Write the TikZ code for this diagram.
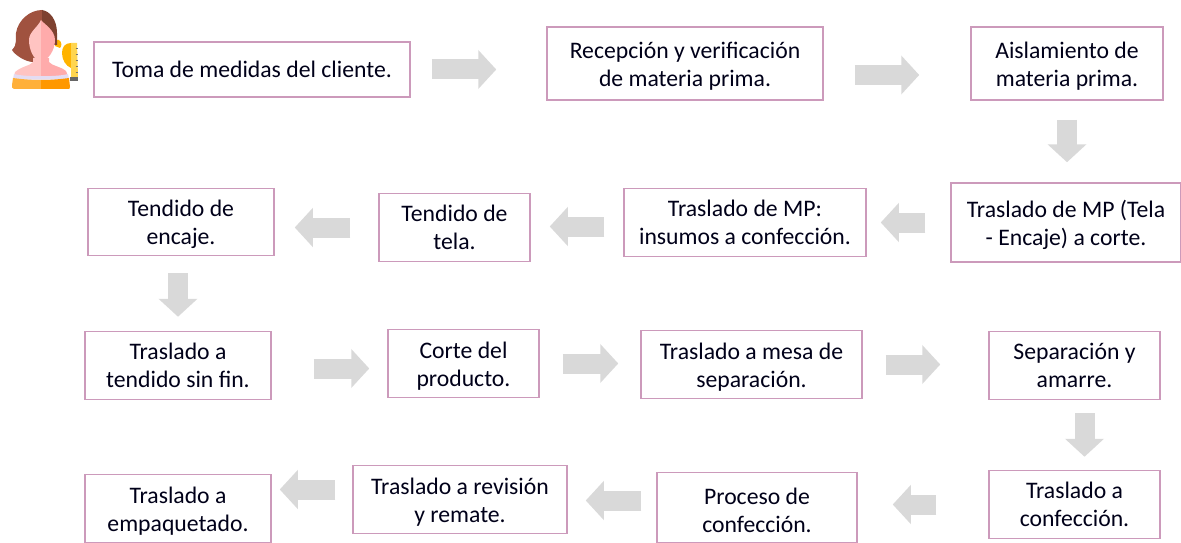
\documentclass[tikz,border=0pt]{standalone}
\usepackage{fontspec}
\setmainfont{Carlito}
\usetikzlibrary{arrows.meta,positioning}

\definecolor{boxpink}{HTML}{CC9ABB}
\definecolor{arrowgray}{HTML}{D9D9D9}
\definecolor{hairlight}{HTML}{A0523F}
\definecolor{hairdark}{HTML}{7E4130}
\definecolor{skinlight}{HTML}{FFC4C2}
\definecolor{skindark}{HTML}{FFABAB}
\definecolor{shirtlight}{HTML}{FFB03A}
\definecolor{shirtdark}{HTML}{FF9800}
\definecolor{bandlila}{HTML}{E4DCF2}
\definecolor{tapeyellow}{HTML}{FFD54F}
\definecolor{tapeorange}{HTML}{FFB300}

\tikzset{
 proc/.style={draw=boxpink,line width=1.5pt,fill=white,align=center,inner sep=0pt,
  text=black!90!blue,font=\fontsize{23.7}{28.3}\selectfont},
 procbajo/.style={proc,execute at begin node={\rule{0pt}{50pt}}},
 flecha/.style={draw=arrowgray,line width=20pt,-{Triangle[width=38pt,length=18pt,fill=arrowgray]}},
}

\begin{document}
\begin{tikzpicture}[x=1pt,y=-1pt,on grid]
 \useasboundingbox (0,0) rectangle (1181,543);
 % fila 1
 \node[proc,minimum width=316pt,minimum height=55pt] (toma) at (252,69.5) {Toma de medidas del cliente.};
 \node[procbajo,minimum width=276pt,minimum height=73pt] (recep) [above right=6pt and 433pt of toma] {Recepción y verificación\\de materia prima.};
 \node[procbajo,minimum width=192pt,minimum height=73pt] (aisl) [right=382pt of recep] {Aislamiento de\\materia prima.};
 % fila 2
 \node[procbajo,minimum width=230pt,minimum height=79pt] (trascorte) [below left=159pt and 1pt of aisl] {Traslado de MP (Tela\\- Encaje) a corte.};
 \node[proc,minimum width=242pt,minimum height=68pt] (insumos) [left=321pt of trascorte] {Traslado de MP:\\insumos a confección.};
 \node[proc,minimum width=151pt,minimum height=68pt] (tela) [below left=5pt and 290.5pt of insumos] {Tendido de\\tela.};
 \node[procbajo,minimum width=186pt,minimum height=67pt] (encaje) [above left=5.5pt and 273.5pt of tela] {Tendido de\\encaje.};
 % fila 3
 \node[proc,minimum width=186pt,minimum height=68pt] (sinfin) [below left=143.5pt and 3pt of encaje] {Traslado a\\tendido sin fin.};
 \node[procbajo,minimum width=151pt,minimum height=68pt] (corte) [above right=2pt and 285.5pt of sinfin] {Corte del\\producto.};
 \node[procbajo,minimum width=221pt,minimum height=68pt] (mesa) [below right=1pt and 288pt of corte] {Traslado a mesa de\\separación.};
 \node[proc,minimum width=171pt,minimum height=68pt] (separ) [below right=1pt and 323pt of mesa] {Separación y\\amarre.};
 % fila 4
 \node[proc,minimum width=171pt,minimum height=68pt] (trasconf) [below=139pt of separ] {Traslado a\\confección.};
 \node[procbajo,minimum width=200pt,minimum height=70pt] (conf) [below left=3pt and 317.5pt of trasconf] {Proceso de\\confección.};
 \node[procbajo,minimum width=214pt,minimum height=68pt] (rev) [above left=8pt and 297pt of conf] {Traslado a revisión\\y remate.};
 \node[procbajo,minimum width=186pt,minimum height=68pt] (emp) [below left=9pt and 282pt of rev] {Traslado a\\empaquetado.};
 % flechas
 \draw[flecha,shorten <=21pt,shorten >=50pt] (toma.east) -- (toma.east -| recep.west);
 \draw[flecha,shorten <=31pt,shorten >=51pt] ([yshift=-11.5pt]recep.east) -- ([yshift=-11.5pt]recep.east -| aisl.west);
 \draw[flecha,shorten <=19pt,shorten >=20pt] (aisl.south) -- (aisl.south |- trascorte.north);
 \draw[flecha,shorten <=25pt,shorten >=14pt] (trascorte.west) -- (trascorte.west -| insumos.east);
 \draw[flecha,shorten <=19pt,shorten >=19pt] ([yshift=-4pt]insumos.west) -- ([yshift=-4pt]insumos.west -| tela.east);
 \draw[flecha,shorten <=28pt,shorten >=20pt] (tela.west) -- (tela.west -| encaje.east);
 \draw[flecha,shorten <=17pt,shorten >=14pt] (sinfin.north |- encaje.south) -- (sinfin.north);
 \draw[flecha,shorten <=42pt,shorten >=18pt] ([yshift=-3pt]sinfin.east) -- ([yshift=-3pt]sinfin.east -| corte.west);
 \draw[flecha,shorten <=23pt,shorten >=22pt] (corte.east) -- (corte.east -| mesa.west);
 \draw[flecha,shorten <=23pt,shorten >=48pt] (mesa.east) -- (mesa.east -| separ.west);
 \draw[flecha,shorten <=13pt,shorten >=13pt] ([xshift=10pt]separ.south) -- ([xshift=10pt]trasconf.north);
 \draw[flecha,shorten <=52pt,shorten >=35pt] (trasconf.west) -- (trasconf.west -| conf.east);
 \draw[flecha,shorten <=15pt,shorten >=18pt] ([yshift=7pt]conf.west) -- ([yshift=7pt]conf.west -| rev.east);
 \draw[flecha,shorten <=17pt,shorten >=8pt] ([yshift=10pt]rev.west) -- ([yshift=10pt]rev.west -| emp.east);
 % figura de la clienta
 \fill[tapeorange] (55,40) -- (59,40) .. controls (62,42) and (62,46) .. (60,48) -- (55,46) -- cycle;
 \fill[hairlight] (42,10) .. controls (30,10) and (18,20) .. (16,33) .. controls (15,38) and (18,44) .. (12,50) .. controls (15,55) and (24,61) .. (32,62) -- (42,62) -- cycle;
 \fill[hairdark] (42,10) .. controls (50,11) and (57,20) .. (57,33) -- (57,45) -- (42,45) -- cycle;
 \fill[skinlight] (41,58) -- (33,58) -- (33,62) .. controls (30,66) and (22,66) .. (15,72) -- (14,76) -- (41,78) -- cycle;
 \fill[skindark] (41,58) -- (41,78) -- (68,76) -- (66,71) .. controls (60,66) and (52,66) .. (49,62) -- (49,58) -- cycle;
 \fill[skinlight] (41,20) .. controls (38,27) and (29,32) .. (29,40) .. controls (29,50) and (34,61) .. (41,61) -- cycle;
 \fill[skindark] (41,20) .. controls (44,24) and (55,30) .. (55,40) .. controls (55,50) and (48,61) .. (41,61) -- cycle;
 \fill[bandlila] (14,74) .. controls (24,77) and (58,77) .. (68,74) -- (69,79) .. controls (58,80) and (24,80) .. (13,79) -- cycle;
 \fill[shirtlight] (13,78) .. controls (20,79) and (30,80) .. (41,80) -- (41,89) -- (14,89) .. controls (12,89) and (12,87) .. (12,85) -- cycle;
 \fill[shirtdark] (41,80) .. controls (52,80) and (62,79) .. (69,78) -- (70,87) .. controls (70,89) and (69,89) .. (68,89) -- (41,89) -- cycle;
 \fill[tapeorange] (71,43) .. controls (65,43) and (62,47) .. (62,53) .. controls (62,60) and (66,66) .. (71,68) -- cycle;
 \fill[tapeyellow] (71,43) -- (77,43) -- (78,77) -- (71,77) -- cycle;
 \fill[black!60] (70,77) rectangle (78,81);
 \foreach \ty in {48,54,60,66,72}
  \draw[black!55,line width=.8pt] (75.5,\ty) -- (78,\ty);
\end{tikzpicture}
\end{document}
